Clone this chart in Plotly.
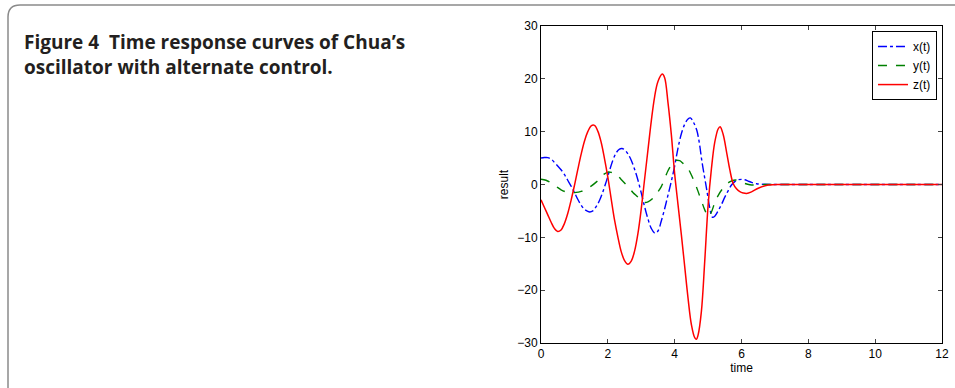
import plotly.graph_objects as go

# ---- data ----
x_time = [0, 0.1, 0.2, 0.3, 0.4, 0.5, 0.6, 0.7, 0.8, 0.9, 1.0, 1.1, 1.2, 1.3, 1.4, 1.46, 1.55,
          1.65, 1.76, 1.85, 1.95, 2.05, 2.15, 2.25, 2.35, 2.42, 2.5, 2.6, 2.7, 2.8, 2.9, 3.0,
          3.1, 3.2, 3.3, 3.41, 3.5, 3.6, 3.7, 3.8, 3.9, 4.0, 4.1, 4.2, 4.3, 4.4, 4.47, 4.56,
          4.66, 4.74, 4.81, 4.9, 4.96, 5.05, 5.13, 5.2, 5.3, 5.4, 5.5, 5.6, 5.7, 5.8, 5.9,
          6.0, 6.1, 6.2, 6.3, 6.45, 6.6, 7.0, 8, 9, 10, 11, 12]
x_vals = [5.0, 5.1, 5.1, 4.8, 4.2, 3.5, 2.8, 1.9, 0.8, -0.3, -1.5, -2.8, -3.9, -4.7, -5.1, -5.2,
          -5.0, -4.2, -2.9, -1.4, 0.5, 2.6, 4.6, 6.0, 6.7, 6.8, 6.6, 5.8, 4.6, 2.9, 0.85, -1.6,
          -4.2, -6.5, -8.3, -9.2, -8.8, -6.9, -4.6, -2.0, 0.6, 3.5, 6.9, 9.6, 11.4, 12.4, 12.6,
          11.8, 10.3, 7.8, 4.6, 1.2, -1.0, -4.4, -6.2, -6.0, -5.0, -3.8, -2.4, -1.2, -0.1,
          0.55, 0.9, 0.97, 0.9, 0.65, 0.4, 0.15, 0.05, 0, 0, 0, 0, 0, 0]

y_time = [0, 0.15, 0.3, 0.46, 0.6, 0.75, 0.9, 1.05, 1.2, 1.31, 1.5, 1.66, 1.8, 1.9, 2.0, 2.1,
          2.2, 2.3, 2.45, 2.6, 2.75, 2.9, 3.0, 3.1, 3.2, 3.35, 3.5, 3.6, 3.7, 3.8, 3.9, 4.0,
          4.05, 4.15, 4.25, 4.36, 4.5, 4.61, 4.7, 4.81, 4.9, 5.01, 5.1, 5.21, 5.3, 5.41, 5.55,
          5.66, 5.81, 5.95, 6.1, 6.25, 6.4, 6.7, 7.0, 8, 9, 10, 11, 12]
y_vals = [1.0, 0.8, 0.3, -0.4, -1.0, -1.4, -1.55, -1.5, -1.3, -1.05, -0.3, 0.5, 1.4, 2.0, 2.35,
          2.3, 2.05, 1.6, 0.6, -0.4, -1.5, -2.4, -3.1, -3.4, -3.3, -2.6, -1.4, -0.4, 1.1, 2.6,
          3.7, 4.5, 4.6, 4.5, 4.0, 3.4, 1.8, 0.2, -1.3, -3.25, -4.8, -6.1, -5.2, -3.25, -2.1,
          -1.0, 0.0, 0.55, 0.85, 0.6, 0.2, -0.05, -0.1, 0, 0, 0, 0, 0, 0, 0]

z_time = [0, 0.1, 0.2, 0.3, 0.4, 0.5, 0.6, 0.7, 0.8, 0.9, 1.0, 1.1, 1.2, 1.3, 1.4, 1.5, 1.6,
          1.7, 1.8, 1.9, 2.0, 2.1, 2.2, 2.3, 2.4, 2.5, 2.6, 2.7, 2.8, 2.9, 3.0, 3.1, 3.2, 3.3,
          3.4, 3.5, 3.63, 3.7, 3.8, 3.9, 4.0, 4.1, 4.2, 4.3, 4.4, 4.5, 4.6, 4.65, 4.7, 4.8,
          4.9, 5.0, 5.1, 5.2, 5.3, 5.36, 5.45, 5.56, 5.65, 5.75, 5.85, 5.95, 6.05, 6.15, 6.3,
          6.5, 6.8, 7.2, 8, 9, 10, 11, 12]
z_vals = [-2.9, -4.3, -5.7, -7.1, -8.3, -8.9, -8.6, -7.4, -5.5, -3.0, -0.2, 2.8, 5.7, 8.2, 10.0,
          11.1, 11.2, 10.1, 8.0, 4.9, 1.4, -2.7, -6.7, -9.9, -12.7, -14.4, -15.1, -14.5, -12.6,
          -9.3, -4.6, 1.0, 6.5, 12.0, 16.6, 19.5, 20.9, 20.2, 15.5, 9.5, 2.0, -3.8, -9.5,
          -15.5, -21.5, -26.5, -29.0, -29.3, -28.5, -24.0, -14.5, -4.0, 3.0, 8.0, 10.5, 10.95,
          9.5, 5.9, 2.8, 0.2, -0.8, -1.35, -1.6, -1.7, -1.4, -0.7, -0.1, 0, 0, 0, 0, 0, 0]

x_ticks = [0, 2, 4, 6, 8, 10, 12]
y_ticks = [-30, -20, -10, 0, 10, 20, 30]

fig = go.Figure()
fig.add_trace(go.Scatter(x=x_time, y=x_vals, mode="lines", name="x(t)",
                         line=dict(color="#0000ff", width=1.4, dash="dashdot", shape="spline")))
fig.add_trace(go.Scatter(x=y_time, y=y_vals, mode="lines", name="y(t)",
                         line=dict(color="#008000", width=1.4, dash="dash", shape="spline")))
fig.add_trace(go.Scatter(x=z_time, y=z_vals, mode="lines", name="z(t)",
                         line=dict(color="#ff0000", width=1.5, shape="spline")))

axis_font = dict(family="Liberation Sans, Arial, sans-serif", size=12, color="#000000")

fig.update_layout(
    width=955, height=388,
    margin=dict(l=541, r=13, t=26, b=45),
    paper_bgcolor="white", plot_bgcolor="white",
    font=axis_font,
    xaxis=dict(range=[0, 12], tickvals=x_ticks, ticks="inside", ticklen=4,
               showline=True, linecolor="black", linewidth=1, mirror="allticks",
               showgrid=False, zeroline=False, tickfont=axis_font, automargin=False,
               title=dict(text="time", font=axis_font, standoff=2)),
    yaxis=dict(range=[-30, 30], tickvals=y_ticks, ticks="inside", ticklen=4,
               showline=True, linecolor="black", linewidth=1, mirror="allticks",
               showgrid=False, zeroline=False, tickfont=axis_font, automargin=False,
               title=dict(text="result", font=axis_font, standoff=6)),
    legend=dict(x=0.9875, y=0.984, xanchor="right", yanchor="top",
                bgcolor="white", bordercolor="black", borderwidth=1,
                font=dict(family="Liberation Sans, Arial, sans-serif", size=12),
                tracegroupgap=0),
    showlegend=True,
)

# outer rounded frame (top and left edges), in paper coordinates
def px2x(px):
    return (px - 541) / 401.0

def py2y(py):
    return (343 - py) / 317.0

r = 12
path = (f"M {px2x(8)},{py2y(392)} L {px2x(8)},{py2y(5 + r)} "
        f"Q {px2x(8)},{py2y(5)} {px2x(8 + r)},{py2y(5)} L {px2x(960)},{py2y(5)}")
fig.add_shape(type="path", path=path, xref="paper", yref="paper",
              line=dict(color="#8a8a8a", width=1.5), layer="below")

title_font = dict(family="Open Sans, sans-serif", size=19, color="#231f20")
fig.add_annotation(text="<b>Figure 4  Time response curves of Chua’s</b>",
                   xref="paper", yref="paper", x=px2x(22), y=py2y(27),
                   xanchor="left", yanchor="top", showarrow=False, font=title_font)
fig.add_annotation(text="<b>oscillator with alternate control.</b>",
                   xref="paper", yref="paper", x=px2x(22), y=py2y(52),
                   xanchor="left", yanchor="top", showarrow=False, font=title_font)

fig.write_html("out.html", config={"displayModeBar": False},
               post_script="document.body.style.margin='0';")
